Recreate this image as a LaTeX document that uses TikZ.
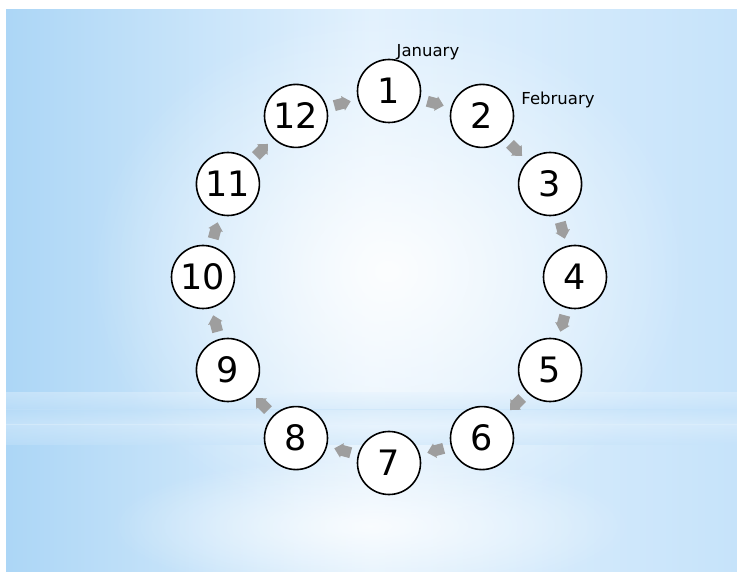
\documentclass[tikz,border=0pt]{standalone}
\usepackage{fontspec}
\setmainfont{DejaVu Sans}
\usetikzlibrary{fadings,calc}
\definecolor{bgblue}{RGB}{198,227,250}
\definecolor{bgdark}{RGB}{172,214,246}
\definecolor{bglight}{RGB}{226,241,253}
\definecolor{arrowgray}{RGB}{158,158,158}
\tikzfading[name=softglow, inner color=transparent!0, outer color=transparent!100]
\begin{document}
\begin{tikzpicture}[x=1pt,y=1pt,
  month/.style={circle,draw=black,line width=1.6pt,fill=white,minimum size=63pt,inner sep=0pt,font=\fontsize{35}{35}\selectfont},
  lbl/.style={font=\fontsize{16.5}{16.5}\selectfont,inner sep=0pt}]
\useasboundingbox (0,0) rectangle (737,571);
\fill[white] (0,0) rectangle (737,571);
% background
\shade[left color=bgdark,right color=bgblue,middle color=bglight] (6,0) rectangle (737,561);
\fill[white,path fading=softglow,opacity=0.9] (389,300) ellipse (300 and 260);
\fill[white,path fading=softglow,opacity=0.8] (370,45) ellipse (260 and 70);
% horizontal band
\shade[top color=bglight,bottom color=bgblue,opacity=0.45] (6,161) rectangle (737,178);
\shade[top color=bgblue,bottom color=bglight,opacity=0.45] (6,146) rectangle (737,161);
\shade[top color=bglight,bottom color=bgblue,opacity=0.45] (6,126) rectangle (737,146);
\coordinate (ctr) at (389,294);
% months
\foreach \i in {1,...,12}
  \node[month] (m\i) at ($(ctr)+({90-30*(\i-1)}:186)$) {\i};
% flow arrows
\foreach \i [evaluate=\i as \j using {int(mod(\i,12)+1)}, evaluate=\i as \r using {15-30*\i}] in {1,...,12}{
  \coordinate (a\i) at ($(m\i)!0.5!(m\j)$);
  \fill[arrowgray,shift={(a\i)},rotate=\r] (-8.5,-5.5) -- (0.5,-5.5) -- (0.5,-7.5) -- (8.5,0) -- (0.5,7.5) -- (0.5,5.5) -- (-8.5,5.5) -- cycle;
}
% labels
\node[lbl] (jan) at (428,519) {January};
\node[lbl] (feb) at (558,471) {February};
\end{tikzpicture}
\end{document}
